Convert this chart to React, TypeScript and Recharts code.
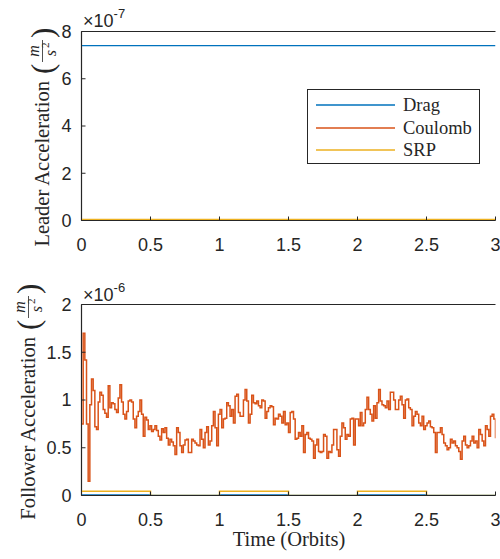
import React from 'react';
import { LineChart, Line, XAxis, YAxis, Legend, ReferenceLine } from 'recharts';

// time axis (orbits) and tick labels
const X_TICKS = [0, 0.5, 1, 1.5, 2, 2.5, 3];
const LEADER_Y_TICKS = [0, 2, 4, 6, 8];
const FOLLOWER_Y_TICKS = [0, 0.5, 1, 1.5, 2];

// leader accelerations, in units of 1e-7 m/s^2
const LEADER_TIMES = [0, 3];
const LEADER_DRAG = [7.4, 7.4];
const LEADER_COULOMB = [0.02, 0.02];
const LEADER_SRP = [0.05, 0.05];

// follower drag / srp switch on and off with the eclipse, units of 1e-6 m/s^2
const ECLIPSE_TIMES = [0, 0.5, 1, 1.5, 2, 2.5, 3];
const FOLLOWER_DRAG = [0.004, 0, 0.004, 0, 0.004, 0, 0];
const FOLLOWER_SRP = [0.045, 0, 0.045, 0, 0.045, 0, 0];

// follower coulomb acceleration, 1e-6 m/s^2, one sample every SAMPLE_DT orbits
const SAMPLE_DT = 3 / 248;
const FOLLOWER_COULOMB = [
  0.75, 1.7, 1.42, 0.75, 0.15, 0.95, 1.22, 1.1, 0.72, 0.69,
  0.98, 1.08, 1.05, 0.9, 0.86, 0.82, 1.15, 0.92, 0.97, 0.96,
  0.9, 0.87, 1.02, 1.16, 0.98, 0.85, 0.8, 0.88, 0.99, 1.0,
  0.98, 0.8, 0.71, 0.83, 0.88, 1.0, 0.85, 0.62, 0.82, 0.79,
  0.69, 0.73, 0.67, 0.69, 0.73, 0.68, 0.62, 0.58, 0.7, 0.66,
  0.71, 0.6, 0.53, 0.59, 0.56, 0.52, 0.43, 0.71, 0.66, 0.52,
  0.45, 0.53, 0.58, 0.59, 0.45, 0.45, 0.59, 0.57, 0.55, 0.53,
  0.52, 0.69, 0.59, 0.5, 0.66, 0.72, 0.53, 0.57, 0.73, 0.88,
  0.71, 0.52, 0.85, 0.9, 0.71, 0.8, 0.81, 0.97, 0.94, 0.83,
  0.9, 0.76, 1.04, 1.06, 0.87, 0.83, 0.83, 1.0, 1.11, 0.99,
  0.76, 0.85, 1.05, 0.97, 0.96, 0.99, 0.94, 0.92, 1.0, 0.99,
  0.81, 0.88, 0.92, 0.94, 0.93, 0.74, 0.81, 0.8, 0.85, 0.83,
  0.76, 0.88, 0.74, 0.76, 0.66, 0.87, 0.88, 0.8, 0.59, 0.6,
  0.66, 0.62, 0.73, 0.45, 0.64, 0.66, 0.6, 0.59, 0.57, 0.39,
  0.53, 0.59, 0.46, 0.45, 0.46, 0.64, 0.62, 0.39, 0.46, 0.45,
  0.53, 0.69, 0.69, 0.48, 0.41, 0.62, 0.76, 0.71, 0.59, 0.64,
  0.62, 0.8, 0.81, 0.53, 0.8, 0.8, 0.73, 0.87, 0.73, 0.76,
  0.9, 1.03, 0.9, 0.85, 0.78, 0.94, 0.81, 0.97, 1.11, 0.99,
  0.95, 0.94, 0.92, 0.99, 0.9, 1.08, 1.08, 1.0, 0.9, 0.9,
  1.0, 1.04, 0.95, 0.81, 1.0, 1.01, 0.92, 0.9, 0.73, 0.83,
  0.88, 0.85, 0.76, 0.73, 0.83, 0.69, 0.73, 0.76, 0.78, 0.72,
  0.71, 0.66, 0.45, 0.66, 0.66, 0.71, 0.64, 0.55, 0.52, 0.48,
  0.5, 0.59, 0.55, 0.57, 0.52, 0.5, 0.46, 0.38, 0.57, 0.62,
  0.53, 0.5, 0.52, 0.57, 0.62, 0.55, 0.57, 0.5, 0.69, 0.64,
  0.57, 0.52, 0.73, 0.69, 0.62, 0.83, 0.85, 0.8, 0.6,
];

const SERIES = ['Drag', 'Coulomb', 'SRP'];
const COLORS = ['#0072BD', '#D95319', '#EDB120'];

const AXIS = '#262626';
const SANS = '"Liberation Sans", Arial, sans-serif';
const SERIF = '"Liberation Serif", "Times New Roman", serif';

const toRows = (times: number[], values: number[]) => times.map((t, i) => ({ t, v: values[i] }));

const leaderDrag = toRows(LEADER_TIMES, LEADER_DRAG);
const leaderCoulomb = toRows(LEADER_TIMES, LEADER_COULOMB);
const leaderSrp = toRows(LEADER_TIMES, LEADER_SRP);
const followerDrag = toRows(ECLIPSE_TIMES, FOLLOWER_DRAG);
const followerSrp = toRows(ECLIPSE_TIMES, FOLLOWER_SRP);
const followerCoulomb = FOLLOWER_COULOMB.map((v, i) => ({ t: i * SAMPLE_DT, v }));

const tickFont = { fontFamily: SANS, fontSize: 18, fill: AXIS };

// y-axis title: text plus a (m / s^2) fraction, rotated
const AxisTitle = ({ x, y, text }: { x: number; y: number; text: string }) => (
  <g transform={`translate(${x},${y}) rotate(-90)`} fill={AXIS} fontFamily={SERIF}>
    <text x={0} y={0} textAnchor="end" fontSize={20.5}>{text}</text>
    <text x={7} y={4} fontSize={31}>(</text>
    <text x={30} y={-10} fontSize={16} fontStyle="italic" textAnchor="middle">m</text>
    <line x1={19} x2={41} y1={-6.5} y2={-6.5} stroke={AXIS} strokeWidth={0.8} />
    <text x={28} y={7} fontSize={16} fontStyle="italic" textAnchor="middle">s</text>
    <text x={33} y={0} fontSize={11}>2</text>
    <text x={43} y={4} fontSize={31}>)</text>
  </g>
);

const Exponent = ({ x, y, power }: { x: number; y: number; power: string }) => (
  <text x={x} y={y} fill={AXIS} fontFamily={SANS} fontSize={18}>
    ×10<tspan dy={-9} fontSize={13}>{power}</tspan>
  </text>
);

const LegendBox = () => (
  <div
    style={{
      width: 173,
      height: 75,
      boxSizing: 'border-box',
      border: `1px solid ${AXIS}`,
      background: '#fff',
      paddingTop: 4,
      fontFamily: SERIF,
      fontSize: 18.5,
      color: AXIS,
    }}
  >
    {SERIES.map((name, i) => (
      <div key={name} style={{ height: 22.5, display: 'flex', alignItems: 'center' }}>
        <svg width={95} height={4} style={{ flex: 'none' }}>
          <line x1={8} x2={87} y1={2} y2={2} stroke={COLORS[i]} strokeWidth={1.3} />
        </svg>
        <span style={{ lineHeight: 1 }}>{name}</span>
      </div>
    ))}
  </div>
);

const frameAxes = (yDomain: number[], yTicks: number[], xHeight: number) => [
  <XAxis
    key="xb"
    type="number"
    dataKey="t"
    domain={[0, 3]}
    ticks={X_TICKS}
    allowDataOverflow
    height={xHeight}
    stroke={AXIS}
    tickSize={-4}
    tickMargin={22}
    tick={tickFont}
    axisLine={{ stroke: AXIS, strokeWidth: 1 }}
    tickLine={{ stroke: AXIS }}
  />,
  <XAxis
    key="xt"
    xAxisId="top"
    orientation="top"
    type="number"
    dataKey="t"
    domain={[0, 3]}
    ticks={X_TICKS}
    height={0}
    stroke={AXIS}
    tickSize={-4}
    tick={false}
    axisLine={{ stroke: AXIS, strokeWidth: 1 }}
    tickLine={{ stroke: AXIS }}
  />,
  <YAxis
    key="yl"
    type="number"
    domain={yDomain}
    ticks={yTicks}
    allowDataOverflow
    width={50}
    stroke={AXIS}
    tickSize={-4}
    tickMargin={14}
    tick={tickFont}
    axisLine={{ stroke: AXIS, strokeWidth: 1 }}
    tickLine={{ stroke: AXIS }}
  />,
  <YAxis
    key="yr"
    yAxisId="r"
    orientation="right"
    type="number"
    domain={yDomain}
    ticks={yTicks}
    width={0}
    stroke={AXIS}
    tickSize={-4}
    tick={false}
    axisLine={{ stroke: AXIS, strokeWidth: 1 }}
    tickLine={{ stroke: AXIS }}
  />,
  // box edges, drawn through the scales
  <ReferenceLine key="fl" x={0} stroke={AXIS} strokeWidth={1.2} ifOverflow="visible" />,
  <ReferenceLine key="ft" y={yDomain[1]} stroke={AXIS} strokeWidth={1} ifOverflow="visible" />,
];

export default function App() {
  return (
    <div style={{ position: 'absolute', left: 0, top: 0, width: 500, height: 559, background: '#fff' }}>
      <LineChart width={500} height={270} margin={{ top: 31.5, right: 4.5, bottom: 19.5, left: 31.5 }}>
        {frameAxes([0, 8], LEADER_Y_TICKS, 30)}
        <Line data={leaderDrag} dataKey="v" name="Drag" stroke={COLORS[0]} strokeWidth={1.3} dot={false} isAnimationActive={false} />
        <Line data={leaderCoulomb} dataKey="v" name="Coulomb" stroke={COLORS[1]} strokeWidth={1.3} dot={false} isAnimationActive={false} />
        <Line data={leaderSrp} dataKey="v" name="SRP" stroke={COLORS[2]} strokeWidth={1.3} dot={false} isAnimationActive={false} />
        <Legend
          layout="horizontal"
          verticalAlign="middle"
          content={<LegendBox />}
          wrapperStyle={{ position: 'absolute', left: 307, top: 89, width: 173, height: 75 }}
        />
        <AxisTitle x={49} y={81} text="Leader Acceleration" />
        <Exponent x={83} y={27} power="-7" />
      </LineChart>
      <LineChart width={500} height={289} margin={{ top: 34.5, right: 4.5, bottom: 3.5, left: 31.5 }}>
        {frameAxes([0, 2], FOLLOWER_Y_TICKS, 60)}
        <Line data={followerDrag} dataKey="v" type="stepAfter" stroke={COLORS[0]} strokeWidth={1.6} dot={false} isAnimationActive={false} />
        <Line data={followerCoulomb} dataKey="v" type="stepAfter" stroke={COLORS[1]} strokeWidth={1.5} dot={false} isAnimationActive={false} />
        <Line data={followerSrp} dataKey="v" type="stepAfter" stroke={COLORS[2]} strokeWidth={1.5} dot={false} isAnimationActive={false} />
        <AxisTitle x={35} y={67} text="Follower Acceleration" />
        <Exponent x={83} y={31} power="-6" />
        <text x={289} y={276} textAnchor="middle" fill={AXIS} fontFamily={SERIF} fontSize={20.5}>
          Time (Orbits)
        </text>
      </LineChart>
    </div>
  );
}
